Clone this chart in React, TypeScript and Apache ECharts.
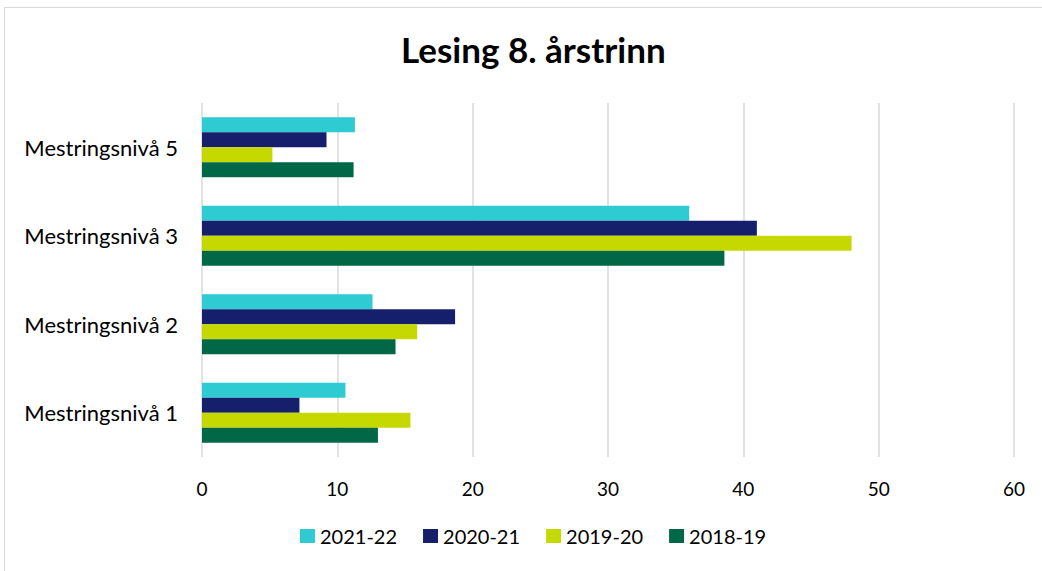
import React, { useEffect, useRef } from "react";
import * as echarts from "echarts";

const categories = ["Mestringsnivå 1", "Mestringsnivå 2", "Mestringsnivå 3", "Mestringsnivå 5"];
const s2021_22 = [10.6, 12.6, 36.0, 11.3];
const s2020_21 = [7.2, 18.7, 41.0, 9.2];
const s2019_20 = [15.4, 15.9, 48.0, 5.2];
const s2018_19 = [13.0, 14.3, 38.6, 11.2];
const xTicks = { min: 0, max: 60, interval: 10 };
const legendOrder = ["2021-22", "2020-21", "2019-20", "2018-19"];

const FONT = "Lato, 'Open Sans', sans-serif";

export default function App() {
  const ref = useRef<HTMLDivElement>(null);
  useEffect(() => {
    if (!ref.current) return;
    const chart = echarts.init(ref.current, null, { renderer: "svg" });
    const mk = (name: string, data: number[], color: string) => ({
      name,
      type: "bar",
      data,
      itemStyle: { color },
      barGap: "0%",
      barCategoryGap: "32%",
    });
    chart.setOption({
      animation: false,
      textStyle: { fontFamily: FONT },
      title: {
        text: "Lesing 8. årstrinn",
        left: 396,
        top: 26,
        textStyle: { fontFamily: FONT, fontSize: 35, fontWeight: "bold", color: "#000" },
      },
      grid: { left: 202, right: 28, top: 103, bottom: 114, containLabel: false },
      xAxis: {
        type: "value",
        min: xTicks.min,
        max: xTicks.max,
        interval: xTicks.interval,
        axisLine: { show: false },
        axisTick: { show: false },
        splitLine: { show: true, lineStyle: { color: "#d9d9d9", width: 1.5 } },
        axisLabel: { fontSize: 19, color: "#000", margin: 22, fontFamily: FONT },
      },
      yAxis: {
        type: "category",
        data: categories,
        axisLine: { show: false },
        axisTick: { show: false },
        axisLabel: { fontSize: 22, color: "#000", margin: 24, fontFamily: FONT },
      },
      legend: {
        data: legendOrder,
        bottom: 20,
        left: 295,
        itemWidth: 15,
        itemHeight: 14,
        itemGap: 26,
        icon: "rect",
        textStyle: { fontSize: 20, color: "#000", fontFamily: FONT },
      },
      series: [
        mk("2021-22", s2021_22, "#2ECBD3"),
        mk("2020-21", s2020_21, "#161F6C"),
        mk("2019-20", s2019_20, "#C5D800"),
        mk("2018-19", s2018_19, "#006747"),
      ],
    });
    return () => chart.dispose();
  }, []);
  return (
    <div style={{ position: "absolute", left: 0, top: 0, width: 1042, height: 571, overflow: "hidden", background: "#fff" }}>
      <div style={{ position: "absolute", left: 4, top: 7, width: 1100, height: 700, border: "1px solid #d9d9d9" }} />
      <div ref={ref} style={{ position: "absolute", left: 0, top: 0, width: 1042, height: 571 }} />
    </div>
  );
}
